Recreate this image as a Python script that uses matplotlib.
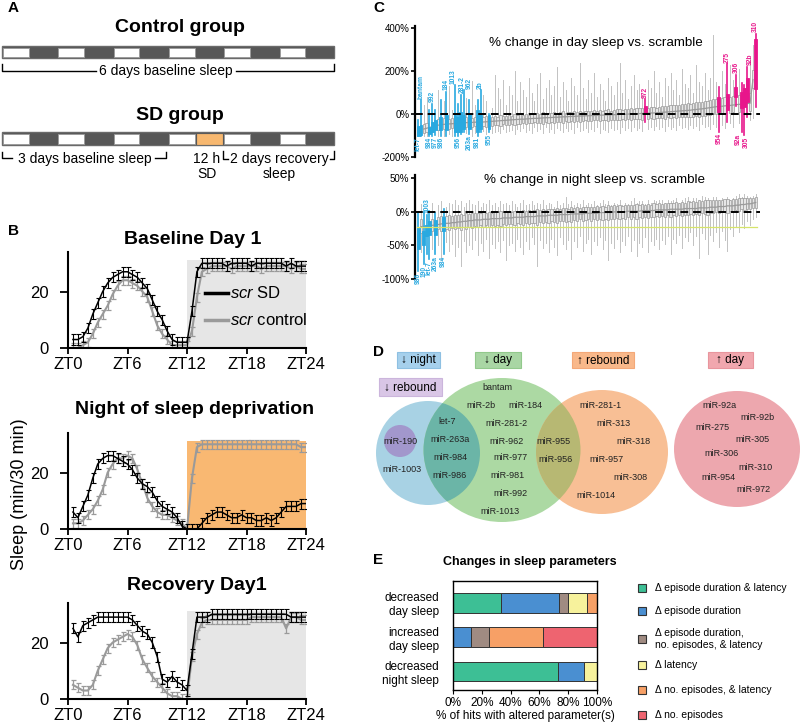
import numpy as np
import matplotlib.pyplot as plt
from matplotlib.patches import Rectangle, Ellipse

plt.rcParams['font.family'] = ['Liberation Sans', 'DejaVu Sans']
plt.rcParams['mathtext.fontset'] = 'custom'
plt.rcParams['mathtext.it'] = 'Liberation Sans:italic'
plt.rcParams['mathtext.rm'] = 'Liberation Sans'

# ---------------- data ----------------
# A: 12 h blocks of each protocol (L = light, D = dark, SD = deprivation)
control_blocks = ['L', 'D'] * 6
sd_blocks = ['L', 'D', 'L', 'D', 'L', 'D', 'L', 'SD', 'L', 'D', 'L', 'D']

# B: sleep in min / 30 min, bins ZT0.5 .. ZT24
zt = np.arange(0.5, 24.01, 0.5)
base_sd = [3, 3, 4, 7, 12, 16, 20, 23, 25, 26, 27, 27, 26, 25, 23, 21, 17, 13, 10, 6, 3, 2, 2, 2,
           13, 27, 30, 30, 30, 30, 30, 29, 30, 30, 30, 30, 29, 30, 30, 30, 30, 30, 30, 29, 30, 29, 29, 29]
base_ctrl = [0, 0, 1, 2, 5, 9, 12, 15, 19, 22, 24, 24, 23, 22, 20, 18, 13, 8, 5, 3, 1, 1, 1, 1,
             6, 18, 27, 28, 29, 29, 29, 29, 28, 29, 29, 29, 29, 29, 28, 29, 29, 29, 29, 29, 28, 29, 28, 28]
night_sd = [6, 4, 8, 12, 18, 23, 25, 26, 26, 25, 24, 23, 21, 18, 16, 15, 13, 10, 8, 7, 6, 4, 1, 0,
            0, 0, 2, 4, 5, 6, 6, 5, 4, 4, 5, 4, 4, 3, 3, 4, 3, 4, 6, 8, 8, 8, 9, 9]
night_ctrl = [2, 2, 3, 5, 7, 10, 14, 20, 23, 25, 25, 26, 25, 21, 16, 11, 8, 6, 5, 5, 4, 3, 2, 0,
              18, 29, 30, 30, 30, 30, 30, 30, 30, 30, 30, 30, 30, 30, 30, 30, 30, 30, 30, 30, 30, 30, 29, 29]
rec_sd = [25, 22, 26, 27, 28, 29, 29, 29, 29, 29, 29, 29, 28, 26, 24, 23, 20, 15, 7, 6, 8, 6, 5, 3,
          16, 29, 29, 29, 30, 30, 30, 30, 30, 30, 30, 30, 30, 30, 30, 30, 30, 30, 30, 30, 29, 29, 29, 29]
rec_ctrl = [5, 4, 3, 3, 5, 10, 14, 18, 20, 21, 22, 23, 22, 19, 14, 11, 8, 6, 4, 2, 1, 1, 0, 0,
            15, 23, 27, 28, 28, 28, 28, 28, 28, 28, 28, 28, 29, 29, 29, 29, 29, 29, 29, 25, 29, 29, 28, 28]
sd_err = 1.8
ctrl_err = 1.6

# C: % change in day sleep vs scramble (box stats per line, sorted)
day_lo = [-100, -100, -100, -100, -100, -100, -99, -100, -100, -100,
          -100, -95, -100, -100, -100, -92, -84, -90, -92, -100,
          -88, -100, -84, -80, -95, -84, -90, -85, -78, -90,
          -70, -85, -80, -75, -92, -70, -80, -65, -85, -72,
          -88, -60, -80, -70, -90, -62, -82, -70, -86, -66,
          -75, -85, -64, -78, -70, -90, -62, -80, -72, -66,
          -84, -70, -78, -60, -88, -68, -74, -82, -64, -76,
          -70, -86, -60, -74, -66, -80, -58, -72, -64, -78,
          -37, -68, -60, -76, -56, -70, -62, -80, -54, -68,
          -60, -74, -52, -66, -58, -70, -50, -64, -56, -72,
          -48, -62, -54, -68, -46, -60, -82, -50, -64, -36,
          -44, -58, 37, -40, -82, -98, -12, -30, -20, 32]
day_q1 = [-100, -99, -90, -85, -91, -84, -76, -75, -76, -70,
          -76, -68, -65, -84, -84, -84, -68, -62, -68, -60,
          -55, -84, -68, -55, -60, -68, -55, -52, -50, -55,
          -48, -50, -52, -45, -50, -45, -48, -42, -46, -40,
          -44, -38, -42, -40, -45, -36, -40, -38, -42, -35,
          -38, -40, -34, -36, -34, -38, -32, -36, -34, -30,
          -34, -32, -30, -28, -34, -30, -28, -32, -26, -28,
          -26, -30, -24, -26, -24, -28, -22, -24, -22, -26,
          5, -22, -20, -24, -18, -20, -18, -22, -16, -18,
          -16, -18, -14, -16, -14, -16, -12, -12, -10, -12,
          -8, -8, -6, -6, -2, 0, 11, 2, 4, 19,
          6, 8, 78, 10, 26, 34, 57, 15, 120, 118]
day_med = [-85, -75, -70, -66, -72, -60, -55, -52, -45, -48,
           -45, -46, -45, -42, -50, -40, -38, -40, -40, -39,
           -38, -35, -30, -37, -36, -35, -34, -33, -32, -31,
           -30, -29, -28, -27, -26, -25, -24, -24, -23, -22,
           -21, -20, -20, -19, -18, -17, -17, -16, -15, -15,
           -14, -13, -13, -12, -11, -11, -10, -9, -9, -8,
           -8, -7, -7, -6, -5, -5, -4, -4, -3, -3,
           -2, -2, -1, -1, 0, 0, 1, 1, 2, 3,
           20, 4, 5, 5, 6, 7, 8, 9, 10, 11,
           12, 13, 14, 15, 16, 17, 18, 20, 21, 23,
           24, 26, 28, 30, 32, 34, 40, 36, 38, 55,
           40, 42, 100, 45, 70, 75, 120, 50, 160, 230]
day_q3 = [-55, -53, -45, -40, -60, -37, -30, -25, -14, -20,
          -6, -25, -20, -6, -14, 9, -6, -15, -2, -18,
          -15, 17, -6, -15, -10, -6, -12, -10, -12, -5,
          -10, -8, -5, -8, 0, -5, 2, -6, 0, -4,
          5, -2, 4, 0, 8, 2, 6, 4, 10, 5,
          8, 12, 6, 10, 8, 14, 10, 12, 10, 14,
          16, 12, 18, 14, 20, 16, 18, 22, 16, 20,
          22, 24, 20, 24, 22, 26, 24, 26, 28, 30,
          36, 30, 32, 34, 30, 34, 36, 38, 36, 40,
          42, 44, 42, 46, 48, 50, 48, 52, 54, 58,
          56, 60, 62, 66, 68, 72, 78, 74, 78, 93,
          80, 84, 127, 90, 104, 120, 166, 100, 205, 350]
day_hi = [-30, 64, 40, 80, 17, 48, 17, 110, 64, 60,
          102, 130, 20, 133, 48, 90, 110, 75, 64, 155,
          40, 64, 110, 90, 60, 0, 30, 180, 120, 70,
          160, 40, 130, 90, 200, 60, 150, 110, 80, 170,
          100, 60, 140, 190, 70, 120, 160, 90, 130, 220,
          80, 150, 110, 60, 170, 130, 90, 240, 120, 70,
          160, 100, 190, 80, 140, 110, 60, 170, 130, 90,
          150, 240, 100, 160, 70, 130, 180, 110, 140, 90,
          68, 160, 120, 200, 100, 150, 80, 170, 130, 190,
          110, 160, 90, 210, 140, 120, 180, 100, 230, 150,
          130, 190, 110, 170, 366, 150, 127, 200, 140, 231,
          230, 160, 181, 210, 143, 135, 220, 260, 320, 374]
day_down_names = ['let-7', 'bantam', '984', '992', '977', '986', '184', '1013',
                  '956', '281-2', '962', '263a', '981', '2b', '955']
day_down_idx = [0, 1, 4, 5, 6, 8, 10, 13, 14, 15, 16, 18, 21, 22, 25]
day_down_above = [False, True, False, True, False, False, True, True,
                  False, True, True, False, False, True, False]
day_up_names = ['972', '954', '275', '306', '92a', '305', '92b', '310']
day_up_idx = [80, 106, 109, 112, 114, 115, 116, 119]
day_up_above = [True, False, True, True, False, False, True, True]

# C: % change in night sleep vs scramble
night_lo = [-88, -60, -78, -63, -70, -55, -63, -50, -72, -63,
            -45, -58, -48, -66, -52, -80, -44, -60, -50, -56,
            -42, -64, -46, -58, -40, -68, -48, -54, -44, -60,
            -42, -72, -50, -46, -58, -40, -52, -62, -44, -56,
            -38, -48, -80, -42, -54, -46, -60, -40, -52, -64,
            -38, -48, -56, -42, -70, -44, -52, -36, -58, -46,
            -40, -62, -44, -50, -38, -56, -42, -72, -46, -54,
            -40, -60, -44, -50, -36, -58, -42, -66, -46, -52,
            -38, -60, -44, -50, -40, -56, -42, -48, -36, -62,
            -40, -46, -34, -54, -38, -44, -30, -50, -36, -68,
            -32, -40, -62, -34, -44, -30, -52, -28, -42, -58,
            -26, -36, -22, -30, -18, -24, -14, -20, -10, -8]
night_q1 = [-56, -32, -49, -36, -34, -28, -34, -26, -28, -29,
            -25, -27, -24, -26, -24, -27, -22, -25, -22, -24,
            -21, -23, -20, -22, -19, -22, -20, -21, -19, -21,
            -18, -20, -18, -18, -19, -17, -18, -19, -16, -18,
            -16, -17, -19, -15, -16, -15, -17, -14, -15, -16,
            -13, -14, -15, -13, -15, -12, -13, -11, -13, -12,
            -11, -13, -11, -12, -10, -12, -10, -12, -10, -11,
            -9, -11, -9, -10, -8, -10, -8, -10, -8, -9,
            -7, -9, -7, -8, -6, -8, -6, -7, -5, -7,
            -5, -6, -4, -6, -4, -5, -3, -5, -3, -5,
            -2, -3, -4, -1, -2, 0, -1, 1, 0, -1,
            2, 1, 3, 2, 4, 3, 5, 4, 6, 6]
night_med = [-40, -22, -38, -28, -25, -20, -22, -19, -18, -18,
             -17, -17, -16, -16, -15, -15, -14, -14, -13, -13,
             -12, -12, -12, -11, -11, -11, -10, -10, -10, -10,
             -9, -9, -9, -9, -8, -8, -8, -8, -7, -7,
             -7, -7, -6, -6, -6, -6, -5, -5, -5, -5,
             -4, -4, -4, -4, -3, -3, -3, -3, -3, -2,
             -2, -2, -2, -2, -1, -1, -1, -1, -1, 0,
             0, 0, 0, 0, 1, 1, 1, 1, 1, 2,
             2, 2, 2, 2, 3, 3, 3, 3, 3, 4,
             4, 4, 4, 4, 5, 5, 5, 5, 5, 6,
             6, 6, 6, 7, 7, 7, 8, 8, 8, 9,
             9, 9, 10, 10, 11, 11, 12, 12, 13, 14]
night_q3 = [-24, -10, -29, -19, -14, -10, -12, -8, -6, -7,
            -6, -5, -6, -4, -5, -3, -4, -2, -3, -2,
            -2, -1, -2, 0, -1, 0, -1, 1, 0, 1,
            0, 2, 1, 0, 2, 1, 2, 3, 2, 3,
            2, 3, 4, 3, 4, 3, 5, 4, 5, 6,
            5, 6, 6, 5, 7, 6, 7, 6, 8, 7,
            8, 8, 7, 9, 8, 9, 8, 10, 9, 10,
            9, 10, 9, 11, 10, 11, 10, 12, 11, 12,
            11, 12, 11, 13, 12, 13, 12, 14, 13, 14,
            13, 15, 14, 15, 14, 16, 15, 16, 15, 17,
            16, 17, 18, 17, 18, 17, 18, 17, 19, 19,
            18, 19, 19, 20, 20, 21, 20, 21, 21, 22]
night_hi = [-2, 12, 0, -4, 2, 14, -2, 10, 16, 5,
            8, 14, 12, 18, 10, 16, 8, 14, 18, 12,
            10, 16, 8, 14, 12, 18, 10, 14, 8, 16,
            12, 14, 10, 16, 12, 8, 14, 18, 10, 12,
            16, 10, 14, 12, 18, 10, 14, 12, 8, 16,
            10, 14, 22, 12, 16, 10, 14, 12, 18, 10,
            14, 12, 16, 10, 14, 18, 12, 16, 10, 14,
            12, 18, 10, 14, 12, 16, 20, 14, 16, 16,
            12, 18, 14, 18, 16, 18, 18, 14, 18, 16,
            18, 20, 14, 18, 20, 22, 16, 20, 20, 18,
            24, 22, 20, 16, 22, 22, 18, 20, 16, 22,
            18, 20, 24, 26, 22, 26, 24, 22, 24, 26]
night_down_names = ['986', '190', '1003', 'let-7', '263a', '984']
night_down_idx = [0, 2, 3, 4, 6, 9]
night_down_above = [False, False, True, False, False, False]
night_cutoff = -22

# D: Venn groups
venn_night = ['miR-190', 'miR-1003']
venn_night_day = ['let-7', 'miR-263a', 'miR-984', 'miR-986']
venn_day = ['bantam', 'miR-2b', 'miR-184', 'miR-281-2', 'miR-962', 'miR-977',
            'miR-981', 'miR-992', 'miR-1013']
venn_day_rebound = ['miR-955', 'miR-956']
venn_rebound = ['miR-281-1', 'miR-313', 'miR-318', 'miR-957', 'miR-308', 'miR-1014']
venn_up_day = ['miR-92a', 'miR-92b', 'miR-275', 'miR-305', 'miR-306', 'miR-310',
               'miR-954', 'miR-972']

# E: changes in sleep parameters (% of hits)
e_rows = ['decreased\nday sleep', 'increased\nday sleep', 'decreased\nnight sleep']
e_cats = ['Δ episode duration & latency', 'Δ episode duration',
          'Δ episode duration,\nno. episodes, & latency', 'Δ latency',
          'Δ no. episodes, & latency', 'Δ no. episodes']
e_vals = [[33.3, 0, 72.7],
          [40.0, 12.5, 18.2],
          [6.7, 12.5, 0],
          [13.3, 0, 9.1],
          [6.7, 37.5, 0],
          [0, 37.5, 0]]
e_colors = ['#3dbf95', '#4a8fd1', '#a08b82', '#f7f29c', '#f7a066', '#ee6470']

# nudges (in box units) for crowded hit labels
label_nudge = {'1013': -0.8, '281-2': 0.4, '962': 1.9, '92a': -1.0, '305': 0.6, '92b': 0.9}

# ---------------- figure ----------------
W, H = 800, 728
fig = plt.figure(figsize=(8, 7.28), dpi=100)


def px_axes(x0, y0, x1, y1):
    return fig.add_axes([x0 / W, 1 - y1 / H, (x1 - x0) / W, (y1 - y0) / H])


# ---- B: sleep profiles ----
def sleep_panel(y0, y1, sd, ctrl, shade):
    ax = px_axes(68, y0, 306, y1)
    ax.add_patch(Rectangle((12, 0), 12, 31, facecolor=shade, edgecolor='none', zorder=0))
    ax.errorbar(zt, ctrl, yerr=ctrl_err, color='#9a9a9a', lw=1.5, elinewidth=0.9,
                capsize=1.8, capthick=0.9, zorder=2)
    ax.errorbar(zt, sd, yerr=sd_err, color='black', lw=1.1, elinewidth=0.8,
                capsize=1.8, capthick=0.8, zorder=3)
    ax.set_xlim(0, 24)
    ax.set_ylim(0, 34)
    ax.set_xticks([0, 6, 12, 18, 24])
    ax.set_xticklabels(['ZT0', 'ZT6', 'ZT12', 'ZT18', 'ZT24'])
    ax.set_yticks([0, 20])
    ax.tick_params(labelsize=12, width=1.3)
    ax.tick_params(axis='x', length=4, pad=2.5)
    ax.tick_params(axis='y', length=6, pad=8)
    for s in ['top', 'right']:
        ax.spines[s].set_visible(False)
    for s in ['left', 'bottom']:
        ax.spines[s].set_linewidth(1.5)
    ax.set_facecolor('none')
    return ax


sleep_panel(252, 348, base_sd, base_ctrl, '#e6e6e6')
sleep_panel(433, 529, night_sd, night_ctrl, '#f9b872')
sleep_panel(603, 699, rec_sd, rec_ctrl, '#e6e6e6')


# ---- C: box plots ----
def box_panel(y0, y1, lo, q1, med, q3, hi, ylim, yticks, hits, pad):
    ax = px_axes(415, y0, 760, y1)
    n = len(med)
    hit_idx = [i for group in hits for i in group[1]]
    gray = [i for i in range(n) if i not in hit_idx]
    for i in gray:
        ax.plot([i, i], [lo[i], hi[i]], color='#c2c2c2', lw=0.7, zorder=1)
        ax.add_patch(Rectangle((i - 0.4, q1[i]), 0.8, q3[i] - q1[i], facecolor='#e6e6e6',
                               edgecolor='#9a9a9a', lw=0.5, zorder=2))
    ax.plot(gray, [med[i] for i in gray], color='#9a9a9a', lw=0.9, zorder=3)
    for names, idx, above, color in hits:
        for name, i, up in zip(names, idx, above):
            ax.plot([i, i], [lo[i], hi[i]], color=color, lw=1.2, zorder=4)
            ax.add_patch(Rectangle((i - 0.5, q1[i]), 1.0, q3[i] - q1[i], facecolor=color,
                                   edgecolor=color, lw=0.6, zorder=4))
            xl = i + label_nudge.get(name, 0)
            if up:
                ax.text(xl, hi[i] + pad, name, rotation=90, ha='center', va='bottom',
                        fontsize=4.8, fontweight='bold', color=color)
            else:
                ax.text(xl, lo[i] - pad, name, rotation=90, ha='center', va='top',
                        fontsize=4.8, fontweight='bold', color=color)
    ax.plot([-1, n + 0.5], [0, 0], color='black', lw=1.4, dashes=(4, 2.5), zorder=6)
    ax.set_xlim(-1.1, n + 0.5)
    ax.set_ylim(*ylim)
    ax.set_yticks(yticks)
    ax.set_yticklabels([f'{t}%' for t in yticks])
    ax.set_xticks([])
    ax.tick_params(labelsize=7, length=3, width=1.2, pad=1)
    for s in ['top', 'right', 'bottom']:
        ax.spines[s].set_visible(False)
    ax.spines['left'].set_linewidth(1.6)
    ax.set_facecolor('none')
    return ax


blue = '#29a9e0'
pink = '#e8168b'
box_panel(26, 157, day_lo, day_q1, day_med, day_q3, day_hi, (-200, 410), [-200, 0, 200, 400],
          [(day_down_names, day_down_idx, day_down_above, blue),
           (day_up_names, day_up_idx, day_up_above, pink)], 8)
axn = box_panel(175, 279, night_lo, night_q1, night_med, night_q3, night_hi, (-100, 55),
                [-100, -50, 0, 50],
                [(night_down_names, night_down_idx, night_down_above, blue)], 3)
axn.plot([-0.5, len(night_med) - 0.5], [night_cutoff, night_cutoff], color='#d6e46a',
         lw=0.9, zorder=5)

# ---- E: stacked bars ----
axe = px_axes(453, 581, 597, 690)
left = np.zeros(len(e_rows))
for vals, col in zip(e_vals, e_colors):
    axe.barh(range(len(e_rows)), vals, left=left, height=0.58, color=col,
             edgecolor='#333333', lw=0.7)
    left += np.array(vals)
axe.set_xlim(0, 100)
axe.set_ylim(2.54, -0.64)
axe.set_yticks(range(len(e_rows)))
axe.set_yticklabels(e_rows, fontsize=8.5)
for lbl in axe.get_yticklabels():
    lbl.set_multialignment('right')
axe.tick_params(axis='y', length=0, pad=10)
axe.set_xticks([0, 20, 40, 60, 80, 100])
axe.set_xticklabels(['0%', '20%', '40%', '60%', '80%', '100%'])
axe.tick_params(axis='x', labelsize=8.5, length=3, pad=2)
axe.set_xlabel('% of hits with altered parameter(s)', fontsize=8.5, labelpad=1)
for s in axe.spines.values():
    s.set_linewidth(1.0)

# ---- overlay in pixel coordinates (A, D, texts) ----
ov = fig.add_axes([0, 0, 1, 1])
ov.set_xlim(0, W)
ov.set_ylim(H, 0)
ov.axis('off')
ov.patch.set_alpha(0)

# panel letters
for letter, (x, y) in zip('ABCDE', [(8, 8), (8, 231), (373, 8), (373, 352), (373, 560)]):
    ov.text(x, y, letter, fontsize=11, fontweight='bold', ha='left', va='center')

# A
block_col = {'L': 'white', 'D': '#575757', 'SD': '#f7b870'}


def schedule(y0, y1, blocks):
    w = (334 - 2) / len(blocks)
    ov.add_patch(Rectangle((2, y0), 332, y1 - y0, facecolor='#575757', edgecolor='#6a6a6a', lw=1))
    for k, b in enumerate(blocks):
        ov.add_patch(Rectangle((2 + k * w + 1, y0 + 1.5), w - 2, y1 - y0 - 3,
                               facecolor=block_col[b], edgecolor='#9a9a9a' if b == 'L' else block_col[b],
                               lw=0.6))


ov.text(180, 28, 'Control group', fontsize=14, fontweight='bold', ha='center', va='center')
schedule(46, 58, control_blocks)
ov.plot([2, 2, 96], [64, 71, 71], color='black', lw=1)
ov.plot([236, 334, 334], [71, 71, 64], color='black', lw=1)
ov.text(166, 71, '6 days baseline sleep', fontsize=10, ha='center', va='center')

ov.text(180, 115, 'SD group', fontsize=14, fontweight='bold', ha='center', va='center')
schedule(132, 145, sd_blocks)
ov.plot([2, 2, 12], [152, 158, 158], color='black', lw=1)
ov.text(85, 159, '3 days baseline sleep', fontsize=10, ha='center', va='center')
ov.plot([155, 166, 166], [158, 158, 152], color='black', lw=1)
ov.text(207, 159, '12 h', fontsize=10, ha='center', va='center')
ov.text(207, 174, 'SD', fontsize=10, ha='center', va='center')
ov.plot([223, 223, 228], [151, 159, 159], color='black', lw=1)
ov.text(279, 159, '2 days recovery', fontsize=10, ha='center', va='center')
ov.plot([330, 334, 334], [159, 159, 151], color='black', lw=1)
ov.text(279, 174, 'sleep', fontsize=10, ha='center', va='center')

# B titles, legend, y label
ov.text(193, 240, 'Baseline Day 1', fontsize=14, fontweight='bold', ha='center', va='center')
ov.text(195, 409, 'Night of sleep deprivation', fontsize=14, fontweight='bold', ha='center', va='center')
ov.text(197, 585, 'Recovery Day1', fontsize=14, fontweight='bold', ha='center', va='center')
ov.plot([205, 228], [293, 293], color='black', lw=2.5)
ov.plot([205, 228], [320, 320], color='#9a9a9a', lw=2.5)
ov.text(230, 293, r'$\mathit{scr}$ SD', fontsize=12, ha='left', va='center')
ov.text(230, 320, r'$\mathit{scr}$ control', fontsize=12, ha='left', va='center')
ov.text(20, 494, 'Sleep (min/30 min)', fontsize=13, rotation=90, ha='center', va='center')

# C titles
ov.text(596, 43, '% change in day sleep vs. scramble', fontsize=9.6, ha='center', va='center')
ov.text(594, 180, '% change in night sleep vs. scramble', fontsize=9.6, ha='center', va='center')

# D tags
tags = [('↓ night', 397, 440, 352, 368, '#a6d0ec', '#8ec0e2'),
        ('↓ day', 475, 521, 352, 368, '#a9d6a4', '#92c98c'),
        ('↑ rebound', 572, 634, 352, 368, '#f9b88a', '#f4a878'),
        ('↑ day', 708, 753, 352, 368, '#f1a7ae', '#e8959d'),
        ('↓ rebound', 379, 442, 378, 396, '#d9c6e6', '#cbb5dc')]
for txt, x0, x1, y0, y1, fc, ec in tags:
    ov.add_patch(Rectangle((x0, y0), x1 - x0, y1 - y0, facecolor=fc, edgecolor=ec, lw=0.8))
    ov.text((x0 + x1) / 2, (y0 + y1) / 2 + 0.5, txt, fontsize=8.5, ha='center', va='center')

# D Venn
c_night = Ellipse((428, 453), 104, 104, facecolor='#a8d2e4', lw=0)
c_day = Ellipse((502, 450), 157, 144, facecolor='#acd9a3', lw=0)
c_reb = Ellipse((602, 452), 132, 124, facecolor='#f8bf95', lw=0)
c_up = Ellipse((737, 449), 126, 116, facecolor='#eda7ae', lw=0)
for c in [c_night, c_day, c_reb, c_up]:
    ov.add_patch(c)
ov_nd = Ellipse((502, 450), 157, 144, facecolor='#6bb5a7', lw=0)
ov.add_patch(ov_nd)
ov_nd.set_clip_path(c_night)
ov_dr = Ellipse((602, 452), 132, 124, facecolor='#b7b873', lw=0)
ov.add_patch(ov_dr)
ov_dr.set_clip_path(c_day)
ov.add_patch(Ellipse((400, 441), 32, 32, facecolor='#a297cc', lw=0))

venn_pos = {
    'miR-190': (400, 441), 'miR-1003': (402, 470),
    'let-7': (447, 422), 'miR-263a': (450, 440), 'miR-984': (450, 458), 'miR-986': (450, 476),
    'bantam': (497, 387), 'miR-2b': (481, 405), 'miR-184': (525, 405), 'miR-281-2': (506, 423),
    'miR-962': (507, 441), 'miR-977': (510, 458), 'miR-981': (507, 476), 'miR-992': (510, 494),
    'miR-1013': (500, 511),
    'miR-955': (553, 441), 'miR-956': (556, 459),
    'miR-281-1': (600, 406), 'miR-313': (613, 423), 'miR-318': (633, 442), 'miR-957': (606, 459),
    'miR-308': (630, 477), 'miR-1014': (596, 496),
    'miR-92a': (719, 405), 'miR-92b': (757, 418), 'miR-275': (712, 427), 'miR-305': (752, 439),
    'miR-306': (722, 454), 'miR-310': (755, 467), 'miR-954': (718, 478), 'miR-972': (753, 489)}
for group in [venn_night, venn_night_day, venn_day, venn_day_rebound, venn_rebound, venn_up_day]:
    for name in group:
        x, y = venn_pos[name]
        ov.text(x, y, name, fontsize=6.5, ha='center', va='center', color='#222222')

# E title and legend
ov.text(530, 562, 'Changes in sleep parameters', fontsize=9, fontweight='bold', ha='center', va='center')
leg_y = [588, 611, 639, 665, 690, 715]
for cat, col, y in zip(e_cats, e_colors, leg_y):
    ov.add_patch(Rectangle((638, y - 4), 8, 8, facecolor=col, edgecolor='#333333', lw=0.8))
    ov.text(655, y, cat, fontsize=7.5, ha='left', va='center', linespacing=1.35)

fig.savefig('out.png', dpi=100)
